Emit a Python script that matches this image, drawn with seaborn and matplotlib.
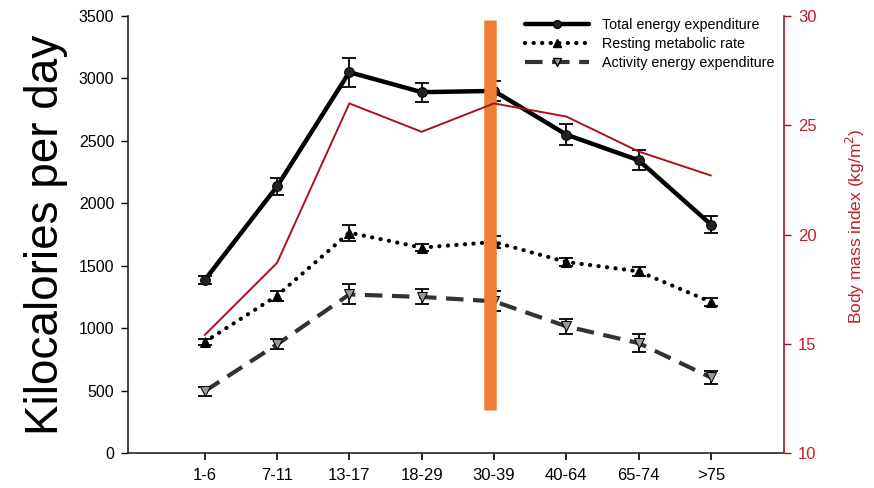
import matplotlib
matplotlib.use("Agg")
import matplotlib.pyplot as plt
import numpy as np
import pandas as pd
import seaborn as sns
from matplotlib.lines import Line2D

# Age groups (x axis)
age_groups = ["1-6", "7-11", "13-17", "18-29", "30-39", "40-64", "65-74", ">75"]

# kcal/day
total_ee = [1385, 2135, 3050, 2890, 2900, 2550, 2345, 1830]
total_ee_err = [35, 70, 115, 75, 80, 85, 80, 65]
resting_mr = [890, 1260, 1765, 1645, 1690, 1530, 1455, 1210]
resting_mr_err = [25, 40, 65, 30, 50, 30, 35, 30]
activity_ee = [495, 870, 1270, 1250, 1215, 1015, 880, 605]
activity_ee_err = [35, 40, 80, 60, 80, 60, 75, 50]

# Body mass index (kg/m^2), right axis
bmi = [15.4, 18.7, 26.0, 24.7, 26.0, 25.4, 23.8, 22.7]

# orange highlight bar (annotation) at the 30-39 group
highlight_group = "30-39"
highlight_range = [345, 3465]

red = "#A8141C"
red_text = "#C0202A"
orange = "#ED7D31"

df = pd.DataFrame({
    "age": age_groups,
    "total": total_ee,
    "resting": resting_mr,
    "activity": activity_ee,
    "bmi": bmi,
})
xpos = np.arange(len(age_groups))

sns.set_style("ticks")
plt.rcParams["font.family"] = ["Liberation Sans", "DejaVu Sans"]
plt.rcParams["text.color"] = "black"
plt.rcParams["axes.labelcolor"] = "black"
plt.rcParams["xtick.color"] = "black"
plt.rcParams["ytick.color"] = "black"

fig = plt.figure(figsize=(8.74, 4.88), dpi=100)
ax = fig.add_axes([0.1465, 0.0717, 0.7505, 0.8955])
ax2 = ax.twinx()

# BMI line on the right axis
sns.lineplot(data=df, x="age", y="bmi", ax=ax2, color=red, lw=1.4, sort=False)

# energy series with error bars
series = [
    ("total", total_ee_err, dict(color="black", lw=3.2, ls="-", marker="o", ms=7,
                                 mfc="#222222", mec="black")),
    ("resting", resting_mr_err, dict(color="black", lw=3.0, ls=(0, (0.05, 2.0)), marker="^",
                                     ms=7, mfc="black", mec="black", dash_capstyle="round")),
    ("activity", activity_ee_err, dict(color="#333333", lw=3.0, ls=(0, (4.2, 2.3)), marker="v",
                                       ms=7, mfc="#9a9a9a", mec="black")),
]
for col, err, style in series:
    ax.errorbar(xpos, df[col], yerr=err, fmt="none", ecolor="black", elinewidth=1.3,
                capsize=5, capthick=1.3, zorder=3)
    sns.lineplot(data=df, x="age", y=col, ax=ax, sort=False, zorder=4, **style)

# orange bar
hx = age_groups.index(highlight_group) - 0.06
ax.vlines(hx, highlight_range[0], highlight_range[1], color=orange, lw=9, zorder=6)

ax.set_xlim(-1.06, 8.01)
ax.set_ylim(0, 3500)
ax.set_yticks(np.arange(0, 3501, 500))
ax.set_xticks(xpos)
ax.set_xticklabels(age_groups)
ax.tick_params(axis="x", labelsize=12, length=5, width=1.2, pad=6)
ax.tick_params(axis="y", labelsize=11.5, length=5, width=1.0, pad=5)
ax.set_xlabel("")
ax.set_ylabel("Kilocalories per day", fontsize=33)
ax.yaxis.set_label_coords(-0.092, 0.50)

ax2.set_ylim(10, 30)
ax2.set_yticks([10, 15, 20, 25, 30])
ax2.tick_params(axis="y", labelsize=12, length=5, width=1.0, colors=red, labelcolor=red_text, pad=5)
ax2.set_ylabel("Body mass index (kg/m$^2$)", fontsize=12.5, color=red_text)
ax2.yaxis.set_label_coords(1.092, 0.52)

for a in (ax, ax2):
    a.spines["top"].set_visible(False)
ax.spines["left"].set_linewidth(1.2)
ax.spines["bottom"].set_linewidth(1.2)
ax.spines["right"].set_visible(False)
ax2.spines["left"].set_visible(False)
ax2.spines["bottom"].set_visible(False)
ax2.spines["right"].set_color(red)
ax2.spines["right"].set_linewidth(1.2)

handles = [
    Line2D([], [], **series[0][2]),
    Line2D([], [], **series[1][2]),
    Line2D([], [], **series[2][2]),
]
labels = ["Total energy expenditure", "Resting metabolic rate", "Activity energy expenditure"]
ax2.legend(handles, labels, loc="upper left", bbox_to_anchor=(0.585, 1.025), frameon=False,
           fontsize=10.3, handlelength=4.5, handletextpad=0.9, labelspacing=0.35, markerscale=0.8)

fig.savefig("out.png", dpi=100)
